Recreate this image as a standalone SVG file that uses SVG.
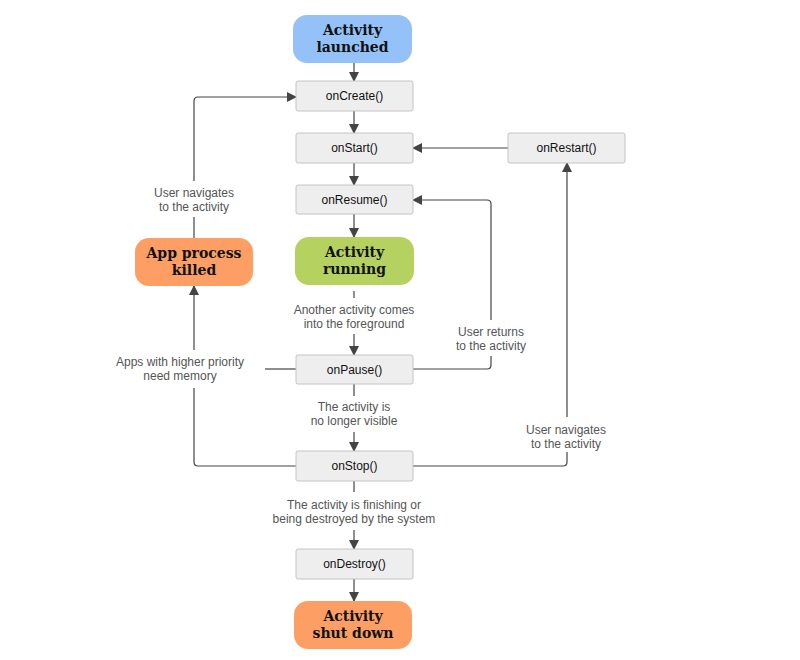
<svg xmlns="http://www.w3.org/2000/svg" width="800" height="660" viewBox="0 0 800 660">
<defs>
<marker id="ah" markerWidth="10" markerHeight="10" refX="9" refY="5" orient="auto" markerUnits="userSpaceOnUse"><path d="M0,0 L10,5 L0,10 z" fill="#444"/></marker>
<style>
.box{fill:#eeeeee;stroke:#c4c4c4;stroke-width:1}
.t{font-family:"Liberation Sans",Arial,sans-serif;font-size:12px;fill:#111;text-anchor:middle}
.l{font-family:"Liberation Sans",Arial,sans-serif;font-size:12px;fill:#555;text-anchor:middle}
.b{font-family:"DejaVu Serif","Liberation Serif",serif;font-weight:bold;font-size:14px;fill:#111;text-anchor:middle}
.c{fill:none;stroke:#444;stroke-width:1.2;marker-end:url(#ah)}
.n{fill:none;stroke:#444;stroke-width:1.2}
</style>
</defs>
<rect width="800" height="660" fill="#fff"/>
<g id="connectors">
<path class="c" d="M354,63 V81"/>
<path class="c" d="M354,111 V133"/>
<path class="c" d="M354,163 V185"/>
<path class="c" d="M354,214 V237"/>
<path class="n" d="M354,291 V298"/>
<path class="c" d="M354,334 V355"/>
<path class="n" d="M354,384 V396"/>
<path class="c" d="M354,432 V451"/>
<path class="n" d="M354,481 V492"/>
<path class="c" d="M354,530 V549"/>
<path class="c" d="M354,579 V601"/>
<path class="c" d="M508,148 H413"/>
<path class="n" d="M194,238 V217"/>
<path class="c" d="M194,181 V101 Q194,97 198,97 H296"/>
<path class="n" d="M296,369 H265"/>
<path class="n" d="M296,466 H198 Q194,466 194,462 V388"/>
<path class="c" d="M194,350 V286"/>
<path class="n" d="M413,369 H487 Q491,369 491,365 V356"/>
<path class="c" d="M491,320 V204 Q491,200 487,200 H413"/>
<path class="n" d="M413,466 H563 Q567,466 567,462 V452"/>
<path class="c" d="M567,417 V163"/>
</g>
<g id="launched"><rect x="293" y="15" width="119" height="48" rx="14" fill="#94c1f8"/><text class="b" x="352.5" y="35">Activity</text><text class="b" x="352.5" y="52">launched</text></g>
<g id="onCreate"><rect class="box" x="296" y="81" width="117" height="30" rx="2"/><text class="t" x="354.5" y="100">onCreate()</text></g>
<g id="onStart"><rect class="box" x="296" y="133" width="117" height="30" rx="2"/><text class="t" x="354.5" y="152">onStart()</text></g>
<g id="onRestart"><rect class="box" x="508" y="133" width="117" height="30" rx="2"/><text class="t" x="566.5" y="152">onRestart()</text></g>
<g id="onResume"><rect class="box" x="296" y="185" width="117" height="29" rx="2"/><text class="t" x="354.5" y="204">onResume()</text></g>
<g id="running"><rect x="295" y="237" width="119" height="48" rx="14" fill="#b5d160"/><text class="b" x="354.5" y="257">Activity</text><text class="b" x="354.5" y="274">running</text></g>
<g id="killed"><rect x="135" y="238" width="118" height="48" rx="14" fill="#fd9f64"/><text class="b" x="194" y="258">App process</text><text class="b" x="194" y="275">killed</text></g>
<g id="onPause"><rect class="box" x="296" y="355" width="117" height="29" rx="2"/><text class="t" x="354.5" y="374">onPause()</text></g>
<g id="onStop"><rect class="box" x="296" y="451" width="117" height="30" rx="2"/><text class="t" x="354.5" y="470">onStop()</text></g>
<g id="onDestroy"><rect class="box" x="296" y="549" width="117" height="30" rx="2"/><text class="t" x="354.5" y="568">onDestroy()</text></g>
<g id="shutdown"><rect x="294" y="601" width="118" height="48" rx="14" fill="#fd9f64"/><text class="b" x="353" y="621">Activity</text><text class="b" x="353" y="638">shut down</text></g>
<g id="labels">
<text class="l" x="194" y="197">User navigates</text><text class="l" x="194" y="211">to the activity</text>
<text class="l" x="354" y="314">Another activity comes</text><text class="l" x="354" y="328">into the foreground</text>
<text class="l" x="491" y="336">User returns</text><text class="l" x="491" y="350">to the activity</text>
<text class="l" x="180" y="366">Apps with higher priority</text><text class="l" x="180" y="380">need memory</text>
<text class="l" x="354" y="411">The activity is</text><text class="l" x="354" y="425">no longer visible</text>
<text class="l" x="566" y="434">User navigates</text><text class="l" x="566" y="448">to the activity</text>
<text class="l" x="354" y="509">The activity is finishing or</text><text class="l" x="354" y="523">being destroyed by the system</text>
</g>
</svg>
